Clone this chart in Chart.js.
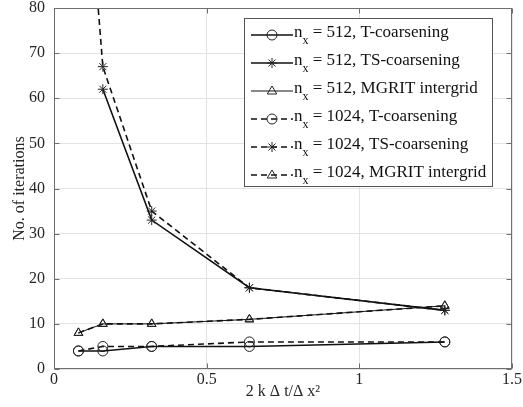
<!DOCTYPE html>
<html>
<head>
<meta charset="utf-8">
<script src="https://cdn.jsdelivr.net/npm/chart.js@4/dist/chart.umd.min.js"></script>
<style>
  html, body { margin: 0; padding: 0; background: #fff; }
  #wrap { width: 523px; height: 407px; }
</style>
</head>
<body>
<div id="wrap"><canvas id="myChart"></canvas></div>
<script>
// data
const xValues = [0.08, 0.16, 0.32, 0.64, 1.28];
const t512 = [4, 4, 5, 5, 6];
const ts512 = [null, 62, 33, 18, 13];
const mg512 = [8, 10, 10, 11, 14];
const t1024 = [4, 5, 5, 6, 6];
const ts1024 = [135, 67, 35, 18, 13];
const mg1024 = [8, 10, 10, 11, 14];
const gridSizes = ['512', '512', '512', '1024', '1024', '1024'];
const methods = ['T-coarsening', 'TS-coarsening', 'MGRIT intergrid', 'T-coarsening', 'TS-coarsening', 'MGRIT intergrid'];
const xTicks = [0, 0.5, 1, 1.5];
const yTicks = [0, 10, 20, 30, 40, 50, 60, 70, 80];

const serif = '"Liberation Serif", "Times New Roman", serif';
const dash = [6, 4];

function series(i, ys, marker, dashed, width) {
    return {
        label: 'n_x = ' + gridSizes[i] + ', ' + methods[i],
        data: xValues.map((x, k) => ({ x: x, y: ys[k] })),
        borderColor: '#111',
        borderWidth: width,
        borderDash: dashed ? dash : [],
        pointStyle: marker,
        pointRadius: 5,
        pointBorderWidth: 1,
        pointBorderColor: '#222',
        pointBackgroundColor: 'rgba(0,0,0,0)',
        tension: 0,
        spanGaps: false
    };
}

const datasets = [
    series(0, t512, 'circle', false, 1.6),
    series(1, ts512, 'star', false, 1.6),
    series(2, mg512, 'triangle', false, 1),
    series(3, t1024, 'circle', true, 1.6),
    series(4, ts1024, 'star', true, 1.6),
    series(5, mg1024, 'triangle', true, 1.6)
];

function marker(ctx, style, x, y, r) {
    ctx.beginPath();
    if (style === 'circle') {
        ctx.arc(x, y, r, 0, Math.PI * 2);
    } else if (style === 'triangle') {
        ctx.moveTo(x, y - r);
        ctx.lineTo(x + r * 0.95, y + r * 0.6);
        ctx.lineTo(x - r * 0.95, y + r * 0.6);
        ctx.closePath();
    } else {
        ctx.moveTo(x - r, y); ctx.lineTo(x + r, y);
        ctx.moveTo(x, y - r); ctx.lineTo(x, y + r);
        const d = r * 0.7;
        ctx.moveTo(x - d, y - d); ctx.lineTo(x + d, y + d);
        ctx.moveTo(x - d, y + d); ctx.lineTo(x + d, y - d);
    }
    ctx.stroke();
}

const boxPlugin = {
    id: 'box',
    afterDraw(chart) {
        const ctx = chart.ctx;
        const a = chart.chartArea;
        const xs = chart.scales.x, ys = chart.scales.y;
        ctx.save();
        ctx.strokeStyle = '#6e6e6e';
        ctx.lineWidth = 1;
        const L = Math.round(a.left) + 0.5, R = Math.round(a.right) - 0.5;
        const T = Math.round(a.top) + 0.5, B = Math.round(a.bottom) - 0.5;
        ctx.strokeRect(L, T, R - L, B - T);
        ctx.beginPath();
        for (const v of xTicks) {
            const px = Math.round(xs.getPixelForValue(v)) + 0.5;
            ctx.moveTo(px, B); ctx.lineTo(px, B - 5);
            ctx.moveTo(px, T); ctx.lineTo(px, T + 5);
        }
        for (const v of yTicks) {
            const py = Math.round(ys.getPixelForValue(v)) + 0.5;
            ctx.moveTo(L, py); ctx.lineTo(L + 5, py);
            ctx.moveTo(R, py); ctx.lineTo(R - 5, py);
        }
        ctx.stroke();

        // legend box
        const lx = 244, ly = 18, lw = 248, lh = 168;
        ctx.fillStyle = '#fff';
        ctx.fillRect(lx, ly, lw, lh);
        ctx.strokeStyle = '#555';
        ctx.strokeRect(lx + 0.5, ly + 0.5, lw, lh);
        datasets.forEach((ds, i) => {
            const cy = 35 + i * 28;
            ctx.strokeStyle = '#111';
            ctx.lineWidth = ds.borderWidth;
            ctx.setLineDash(ds.borderDash);
            ctx.beginPath();
            ctx.moveTo(251, cy); ctx.lineTo(293, cy);
            ctx.stroke();
            ctx.setLineDash([]);
            ctx.lineWidth = 1;
            ctx.strokeStyle = '#222';
            marker(ctx, ds.pointStyle, 272, cy, 5);
            ctx.fillStyle = '#111';
            ctx.textBaseline = 'alphabetic';
            ctx.textAlign = 'left';
            ctx.font = '17px ' + serif;
            ctx.fillText('n', 294, cy + 2);
            const nw = ctx.measureText('n').width;
            ctx.font = '12px ' + serif;
            ctx.fillText('x', 294 + nw, cy + 9);
            const xw = ctx.measureText('x').width;
            ctx.font = '17px ' + serif;
            ctx.fillText(' = ' + gridSizes[i] + ', ' + methods[i], 294 + nw + xw, cy + 2);
        });
        ctx.restore();
    }
};

const config = {
    type: 'line',
    data: { datasets: datasets },
    options: {
        responsive: true,
        maintainAspectRatio: false,
        animation: false,
        devicePixelRatio: 1,
        layout: { padding: { left: 10, right: 11, top: 8, bottom: 0 } },
        plugins: { legend: { display: false }, tooltip: { enabled: false } },
        scales: {
            x: {
                type: 'linear',
                min: 0,
                max: 1.5,
                afterBuildTicks: s => { s.ticks = xTicks.map(v => ({ value: v })); },
                afterFit: s => { s.height = 38; s.paddingLeft = 0; s.paddingRight = 0; },
                grid: { color: '#e3e3e3', drawTicks: false },
                border: { display: false },
                ticks: {
                    color: '#262626',
                    padding: 1,
                    maxRotation: 0,
                    font: { family: serif, size: 16 },
                    callback: v => String(v)
                },
                title: {
                    display: true,
                    text: '2 k \u0394 t/\u0394 x\u00B2',
                    color: '#262626',
                    font: { family: serif, size: 16 },
                    padding: { top: 0, bottom: 6 }
                }
            },
            y: {
                min: 0,
                max: 80,
                afterBuildTicks: s => { s.ticks = yTicks.map(v => ({ value: v })); },
                afterFit: s => { s.width = 44; s.paddingTop = 0; s.paddingBottom = 0; },
                grid: { color: '#e3e3e3', drawTicks: false },
                border: { display: false },
                ticks: {
                    color: '#262626',
                    padding: 9,
                    font: { family: serif, size: 16 }
                },
                title: {
                    display: true,
                    text: 'No. of iterations',
                    color: '#262626',
                    font: { family: serif, size: 16 },
                    padding: { top: 0, bottom: 0 }
                }
            }
        }
    },
    plugins: [boxPlugin]
};

const myChart = new Chart(document.getElementById('myChart'), config);
</script>
</body>
</html>
